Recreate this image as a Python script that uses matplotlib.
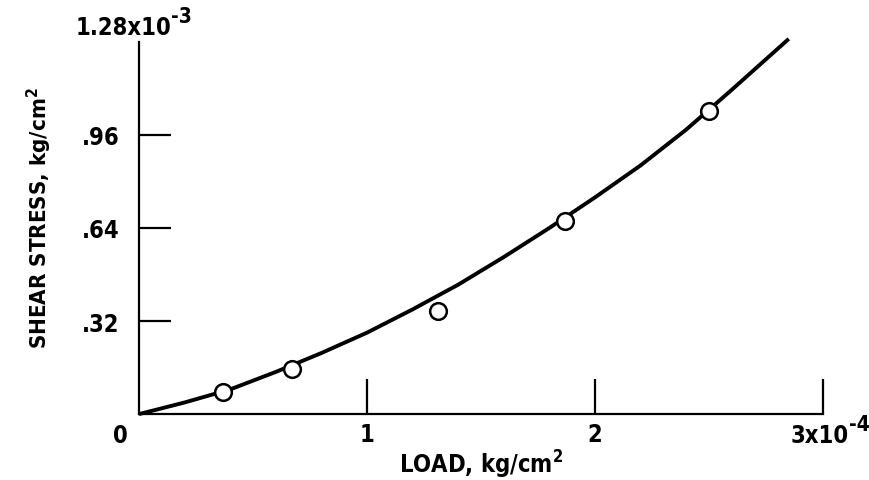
import numpy as np
import matplotlib
matplotlib.use("Agg")
import matplotlib.pyplot as plt

plt.rcParams["font.family"] = ["DejaVu Sans"]
plt.rcParams["font.stretch"] = "condensed"
plt.rcParams["font.weight"] = "bold"
plt.rcParams["axes.labelweight"] = "bold"
plt.rcParams["mathtext.default"] = "regular"

# measured points (load in 1e-4 kg/cm^2, shear stress in 1e-3 kg/cm^2)
load = [0.37, 0.67, 1.31, 1.87, 2.50]
stress = [0.076, 0.155, 0.354, 0.664, 1.043]

# faired curve
curve_load = [0, 0.2, 0.4, 0.6, 0.8, 1.0, 1.2, 1.4, 1.6, 1.8, 2.0, 2.2, 2.4, 2.6, 2.85]
curve_stress = [0, 0.04, 0.085, 0.145, 0.21, 0.28, 0.36, 0.445, 0.54, 0.64,
                0.745, 0.855, 0.978, 1.115, 1.29]

yticks = [0.32, 0.64, 0.96]
ytick_labels = [".32", ".64", ".96"]
xticks = [1, 2, 3]
xtick_labels = ["1", "2", ""]

fig = plt.figure(figsize=(8.69, 4.81), dpi=100)
ax = fig.add_axes([0.16, 0.137, 0.787, 0.774])

ax.plot(curve_load, curve_stress, color="black", lw=2.8, solid_capstyle="butt",
        solid_joinstyle="round", clip_on=False, zorder=2)
ax.plot(load, stress, "o", ms=12, mfc="white", mec="black", mew=1.8, zorder=3)

ax.set_xlim(0, 3)
ax.set_ylim(0, 1.28)
for s in ["top", "right"]:
    ax.spines[s].set_visible(False)
for s in ["left", "bottom"]:
    ax.spines[s].set_linewidth(1.6)

ax.set_yticks(yticks)
ax.set_yticklabels(ytick_labels)
ax.set_xticks(xticks)
ax.set_xticklabels(xtick_labels)
ax.tick_params(axis="y", direction="in", length=23, width=1.6, pad=14, labelsize=17)
ax.tick_params(axis="x", direction="in", length=25, width=1.6, pad=6, labelsize=17)


def power_label(x, y, base, exp, **kw):
    t = ax.text(x, y, base, fontsize=17, **kw)
    ax.annotate(exp, xy=(1.0, 0.95), xycoords=t, ha="left", va="center",
                fontsize=15, annotation_clip=False)
    return t


ax.text(-0.08, -0.03, "0", ha="center", va="top", fontsize=17)
power_label(2.86, -0.03, "3x10", "-4", ha="left", va="top")
power_label(-0.28, 1.29, "1.28x10", "-3", ha="left", va="bottom")

ax.set_xlabel("LOAD, kg/cm$^2$", fontsize=17, labelpad=1)
ax.set_ylabel("SHEAR STRESS, kg/cm$^2$", fontsize=16, labelpad=30)
ax.yaxis.set_label_coords(-0.125, 0.53)

fig.savefig("out.png", dpi=100)
